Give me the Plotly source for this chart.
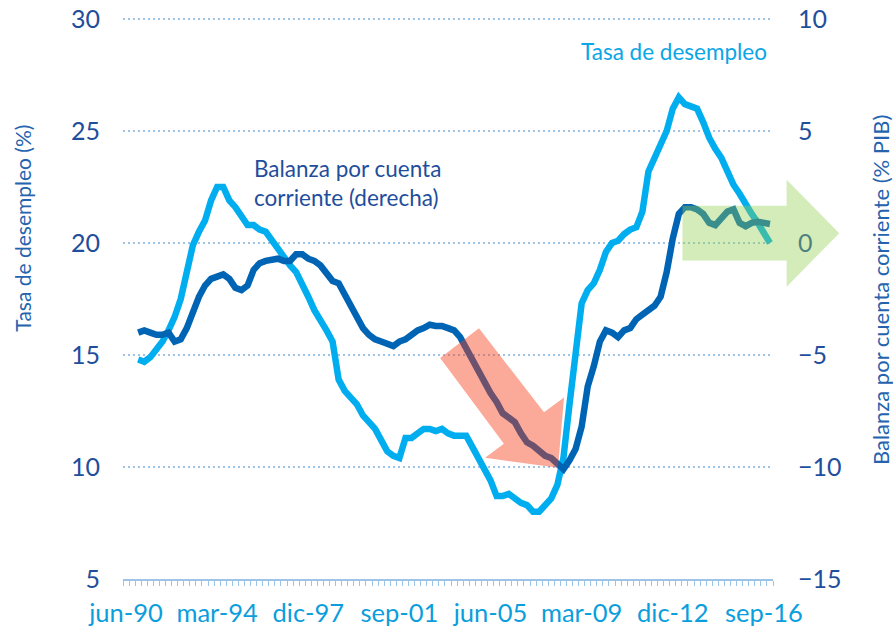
import plotly.graph_objects as go

# quarterly categories jun-90 .. dic-16
months = ["mar", "jun", "sep", "dic"]
quarters = [f"{months[q]}-{y % 100:02d}" for y in range(1990, 2017) for q in range(4)][1:]

# Tasa de desempleo (%), eje izquierdo (first two quarters blank)
unemployment = [
    None, None, 14.8, 14.7, 14.9, 15.2, 15.6, 16.1, 16.7, 17.5,
    18.6, 19.9, 20.5, 21.0, 21.9, 22.5, 22.5, 21.9, 21.6, 21.2,
    20.8, 20.8, 20.6, 20.5, 20.1, 19.7, 19.4, 19.0, 18.7, 18.2,
    17.6, 17.0, 16.6, 16.1, 15.6, 13.9, 13.4, 13.1, 12.8, 12.3,
    12.0, 11.7, 11.2, 10.7, 10.5, 10.4, 11.3, 11.3, 11.5, 11.7,
    11.7, 11.6, 11.7, 11.5, 11.4, 11.4, 11.4, 10.9, 10.4, 10.0,
    9.4, 8.7, 8.7, 8.8, 8.6, 8.4, 8.3, 8.0, 8.0, 8.3,
    8.6, 9.2, 10.4, 12.8, 15.3, 17.3, 17.9, 18.2, 18.8, 19.6,
    20.0, 20.1, 20.4, 20.6, 20.7, 21.4, 23.2, 23.8, 24.3, 25.0,
    26.0, 26.5, 26.2, 26.1, 26.0, 25.4, 24.7, 24.2, 23.8, 23.2,
    22.6, 22.2, 21.7, 21.3, 20.9, 20.5, 20.0,
]

# Balanza por cuenta corriente (% PIB), eje derecho
current_account = [
    None, None, -4.0, -3.9, -4.0, -4.1, -4.1, -4.0, -4.4, -4.3,
    -3.8, -3.0, -2.4, -1.9, -1.6, -1.5, -1.4, -1.6, -2.0, -2.1,
    -1.9, -1.2, -0.9, -0.8, -0.75, -0.7, -0.8, -0.8, -0.5, -0.5,
    -0.7, -0.8, -1.0, -1.3, -1.7, -1.8, -2.3, -2.8, -3.4, -3.8,
    -4.1, -4.3, -4.4, -4.5, -4.6, -4.4, -4.3, -4.1, -3.9, -3.8,
    -3.65, -3.7, -3.7, -3.8, -3.9, -4.2, -4.7, -5.2, -5.8, -6.3,
    -6.7, -7.1, -7.6, -7.8, -8.0, -8.5, -8.9, -9.05, -9.3, -9.5,
    -9.6, -9.9, -10.1, -9.7, -9.2, -8.2, -6.4, -5.5, -4.4, -3.9,
    -4.0, -4.2, -3.9, -3.8, -3.4, -3.2, -3.0, -2.8, -2.4, -1.3,
    0.2, 1.3, 1.6, 1.6, 1.5, 1.3, 0.9, 0.8, 1.1, 1.4,
    1.5, 0.9, 0.75, 0.9, 0.95, 0.9, 0.85,
]

left_ticks = [5, 10, 15, 20, 25, 30]
right_ticks = [-15, -10, -5, 0, 5, 10]
label_step = 15

LIGHT = "#00AEEF"
DARK = "#0064B4"
NAVY = "#1F4E9C"
GRID = "#9DC3E6"
FONT = "Lato, Arial, sans-serif"

x = list(range(len(quarters)))
x_range = [-0.5, len(quarters) - 0.5]
y_range = [left_ticks[0], left_ticks[-1]]
y2_range = [right_ticks[0], right_ticks[-1]]


def to_paper(xi, yv):
    return ((xi - x_range[0]) / (x_range[1] - x_range[0]),
            (yv - y_range[0]) / (y_range[1] - y_range[0]))


def arrow_path(points):
    pts = [to_paper(a, b) for a, b in points]
    return "M " + " L ".join(f"{px:.4f},{py:.4f}" for px, py in pts) + " Z"


# arrow outlines in (quarter index, left-axis value)
red_arrow = [(51.7, 14.87), (58.1, 16.19), (68.8, 12.44), (72.1, 13.1),
             (71.1, 9.97), (59.1, 10.41), (62.2, 11.04)]
green_arrow = [(91.6, 21.66), (108.75, 21.66), (108.75, 22.82), (117.4, 20.44),
               (108.75, 18.05), (108.75, 19.22), (91.6, 19.22)]

fig = go.Figure()
fig.add_trace(go.Scatter(
    x=x, y=unemployment, mode="lines", name="Tasa de desempleo",
    line=dict(color=LIGHT, width=6.5), yaxis="y",
))
fig.add_trace(go.Scatter(
    x=x, y=current_account, mode="lines", name="Balanza por cuenta corriente",
    line=dict(color=DARK, width=6.5), yaxis="y2",
))

# top gridline sits on the plot edge, plotly skips it
fig.add_shape(type="line", xref="paper", yref="paper", x0=0, x1=1, y0=1, y1=1,
              line=dict(color=GRID, width=2, dash="2px,3px"), layer="below")

fig.add_shape(type="path", xref="paper", yref="paper", path=arrow_path(red_arrow),
              fillcolor="rgba(245,60,20,0.44)", line=dict(width=0), layer="above")
fig.add_shape(type="path", xref="paper", yref="paper", path=arrow_path(green_arrow),
              fillcolor="rgba(146,208,80,0.4)", line=dict(width=0), layer="above")

fig.add_annotation(x=105.85, y=28.53, xref="x", yref="y", text="Tasa de desempleo",
                   showarrow=False, xanchor="right", yanchor="middle",
                   font=dict(family=FONT, size=22.5, color="#0AA6E6"))
fig.add_annotation(x=20.7, y=22.66, xref="x", yref="y",
                   text="Balanza por cuenta<br>corriente (derecha)",
                   showarrow=False, xanchor="left", yanchor="middle", align="left",
                   font=dict(family=FONT, size=22.5, color=NAVY))
fig.add_annotation(x=-0.155, y=0.8145, xref="paper", yref="paper",
                   text="Tasa de desempleo (%)", textangle=-90, showarrow=False,
                   xanchor="center", yanchor="top",
                   font=dict(family=FONT, size=21, color="#2563AE"))
fig.add_annotation(x=1.1646, y=0.832, xref="paper", yref="paper",
                   text="Balanza por cuenta corriente (% PIB)", textangle=-90,
                   xanchor="center", yanchor="top",
                   showarrow=False, font=dict(family=FONT, size=22, color="#2563AE"))

fig.update_layout(
    width=893, height=626, autosize=False,
    margin=dict(l=123, r=120, t=19, b=47),
    paper_bgcolor="white", plot_bgcolor="white",
    showlegend=False,
    font=dict(family=FONT),
    xaxis=dict(
        range=x_range, tickmode="array", automargin=False,
        tickvals=x[::label_step], ticktext=quarters[::label_step],
        ticks="", showgrid=False, zeroline=False,
        showline=True, linecolor=GRID, linewidth=2,
        tickfont=dict(family=FONT, size=25.5, color="#0A9EDC"),
        ticklabelstandoff=10,
        minor=dict(tickmode="linear", tick0=-0.5, dtick=1, ticks="outside",
                   ticklen=5, tickwidth=1.2, tickcolor=GRID, showgrid=False),
    ),
    yaxis=dict(
        range=y_range, tickmode="array", tickvals=left_ticks, automargin=False,
        showgrid=True, gridcolor=GRID, gridwidth=2, griddash="2px,3px",
        zeroline=False, showline=False, ticks="",
        ticklabelstandoff=22,
        tickfont=dict(family=FONT, size=25, color=NAVY),
    ),
    yaxis2=dict(
        range=y2_range, tickmode="array", tickvals=right_ticks, automargin=False,
        overlaying="y", side="right", showgrid=False, zeroline=False,
        showline=False, ticks="", ticklabelstandoff=24,
        tickfont=dict(family=FONT, size=25, color=NAVY),
    ),
)

# the page's default body margin would shift the 893x626 figure by 8px
fig.write_html("out.html", config={"displayModeBar": False},
               post_script="document.body.style.margin = '0';")
